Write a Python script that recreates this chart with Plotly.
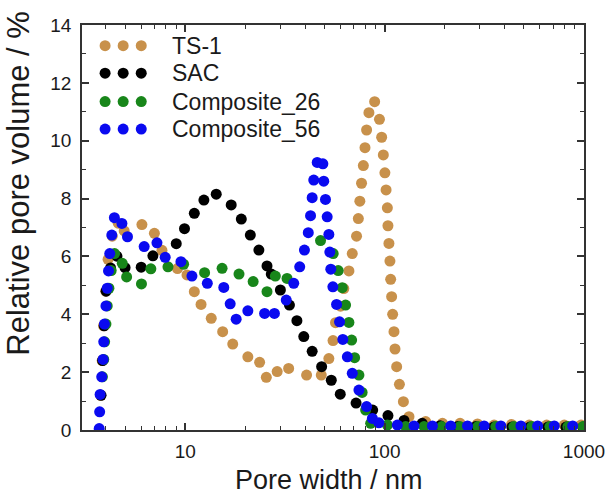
import plotly.graph_objects as go

# ---------------- data ----------------
ts1_x = [3.76, 3.83, 3.89, 3.99, 4.10, 4.30, 4.61, 4.94, 6.06, 7.00, 7.64, 9.14, 10.2, 11.1, 12.0, 13.5,
         15.4, 17.3, 20.6, 23.6, 25.5, 28.9, 33.0, 40.6, 48.1, 52.5, 55.1, 56.7, 60.1, 62.4, 66.2, 68.8,
         72.3, 73.8, 75.1, 76.6, 78.2, 79.7, 81.2, 83.4, 89.1, 94.2, 96.6, 98.5, 100.3, 101.7, 103.2,
         103.9, 105.1, 106.3, 107.2, 108.4, 109.7, 111.4, 112.7, 114.9, 118.6, 124.2, 132.5, 160.7,
         195.0, 239.0, 292.3, 354.2, 433.3, 531.1, 649.7, 796.2, 965.8]
ts1_y = [1.2, 2.4, 3.6, 4.8, 5.9, 6.7, 7.15, 6.88, 7.10, 6.80, 6.21, 5.58, 5.36, 4.78, 4.34, 3.86,
         3.40, 2.97, 2.53, 2.34, 1.82, 2.02, 2.13, 1.90, 1.90, 2.47, 3.09, 3.71, 4.28, 4.89, 5.50, 6.10,
         6.70, 7.31, 7.91, 8.53, 9.14, 9.76, 10.37, 10.97, 11.35, 10.74, 10.12, 9.51, 8.89, 8.30, 7.68,
         7.06, 6.45, 5.84, 5.21, 4.61, 4.00, 3.40, 2.80, 2.19, 1.58, 0.98, 0.46, 0.29,
         0.23, 0.23, 0.21, 0.17, 0.19, 0.17, 0.17, 0.17, 0.17]

sac_x = [3.78, 3.85, 3.92, 4.01, 4.22, 4.54, 4.99, 6.01, 6.88, 9.01, 9.91, 11.1, 12.4, 14.3, 17.0,
         19.1, 21.2, 23.4, 25.7, 27.0, 30.0, 33.3, 36.3, 39.3, 43.3, 48.3, 54.0, 59.9, 71.9, 87.1,
         103.9, 125.1, 154.3, 189.7, 232.8, 286.7, 352.9, 434.6, 535.4, 659.3, 811.9, 988.5]
sac_y = [1.2, 2.4, 3.6, 4.8, 5.6, 6.01, 5.61, 5.63, 6.02, 6.44, 6.96, 7.49, 7.95, 8.15, 7.78,
         7.29, 6.74, 6.22, 5.67, 5.39, 4.84, 4.32, 3.78, 3.23, 2.72, 2.19, 1.72, 1.24, 0.93, 0.69,
         0.50, 0.33, 0.23, 0.15, 0.12, 0.12, 0.10, 0.10, 0.10, 0.10, 0.10, 0.10]

c26_x = [3.84, 3.90, 3.94, 4.00, 4.06, 4.14, 4.25, 4.42, 4.83, 5.08, 6.03, 6.72, 8.19, 9.81, 12.5,
         15.3, 18.6, 21.9, 25.7, 28.3, 32.4, 47.7, 55.2, 58.5, 61.3, 63.7, 66.2, 68.3, 70.7, 74.3,
         77.1, 80.3, 85.1, 103.2, 127.5, 157.6, 193.4, 238.2, 293.4, 361.3, 444.8, 547.9, 674.6,
         830.8, 988.5]
c26_y = [1.84, 2.44, 3.05, 3.66, 4.29, 4.90, 5.51, 6.10, 5.76, 5.29, 5.05, 5.57, 5.64, 5.73, 5.44,
         5.59, 5.39, 5.13, 4.78, 5.32, 5.24, 6.55, 6.10, 5.51, 4.92, 4.32, 3.72, 3.11, 2.50, 1.90,
         1.30, 0.69, 0.23, 0.17, 0.12, 0.12, 0.12, 0.12, 0.12, 0.12, 0.12, 0.12, 0.12,
         0.12, 0.12]

c56_x = [3.70, 3.72, 3.74, 3.81, 3.87, 3.90, 3.93, 4.00, 4.06, 4.12, 4.18, 4.28, 4.41, 4.81, 5.13,
         6.22, 7.21, 7.93, 9.51, 10.8, 12.9, 15.6, 16.8, 18.0, 20.6, 25.0, 28.0, 32.1, 35.0, 37.5,
         39.6, 41.4, 42.5, 43.3, 44.1, 45.9, 49.0, 49.5, 50.5, 51.5, 52.5, 53.1, 53.7, 55.0, 57.4,
         59.4, 61.7, 65.0, 68.8, 74.3, 81.2, 86.8, 93.6, 115.8, 140.4, 173.7, 214.6, 260.4, 315.5,
         382.8, 482.6, 585.5, 709.3, 877.6]
c56_y = [0.05, 0.63, 1.23, 1.84, 2.44, 3.05, 3.66, 4.29, 4.90, 5.50, 6.10, 6.74, 7.34, 7.14, 6.68,
         6.34, 6.47, 5.97, 5.82, 5.32, 5.07, 4.93, 4.36, 3.83, 4.12, 4.03, 4.03, 4.49, 5.07, 5.64,
         6.22, 6.82, 7.41, 8.03, 8.64, 9.25, 9.20, 8.60, 7.97, 7.37, 6.76, 6.15, 5.56, 4.95, 4.34,
         3.74, 3.13, 2.53, 1.96, 1.38, 0.81, 0.40, 0.25, 0.17, 0.14, 0.14, 0.14, 0.14, 0.14,
         0.14, 0.14, 0.14, 0.14, 0.14]

series_names = ["TS-1", "SAC", "Composite_26", "Composite_56"]
series_x = [ts1_x, sac_x, c26_x, c56_x]
series_y = [ts1_y, sac_y, c26_y, c56_y]
colors = ["#C8914B", "#000000", "#18861A", "#0A0AF0"]

x_major = [10, 100, 1000]
x_minor = [4, 5, 6, 7, 8, 9, 20, 30, 40, 50, 60, 70, 80, 90, 200, 300, 400, 500, 600, 700, 800, 900]
y_major = [0, 2, 4, 6, 8, 10, 12, 14]

FONT = "Arial, Liberation Sans, sans-serif"
TXT = "#1a1a1a"
MS = 11

fig = go.Figure()
for name, xs, ys, c in zip(series_names, series_x, series_y, colors):
    fig.add_trace(go.Scatter(x=xs, y=ys, mode="markers", name=name, showlegend=False,
                             marker=dict(size=MS, color=c, line=dict(width=0))))

# legend drawn on an overlay axis (paper-like 0..1 coordinates)
leg_dot_x = [0.046, 0.082, 0.118]
leg_rows = [0.949, 0.881, 0.811, 0.743]
for name, c, ry in zip(series_names, colors, leg_rows):
    fig.add_trace(go.Scatter(x=leg_dot_x, y=[ry] * 3, xaxis="x2", yaxis="y2", mode="markers",
                             showlegend=False, hoverinfo="skip",
                             marker=dict(size=MS, color=c, line=dict(width=0))))
    fig.add_annotation(x=0.175, y=ry, xref="paper", yref="paper", text=name, showarrow=False,
                       xanchor="left", yanchor="middle", font=dict(size=23, color=TXT, family=FONT))

# axis titles
fig.add_annotation(x=-0.126, y=0.61, xref="paper", yref="paper", text="Relative pore volume / %",
                   textangle=-90, showarrow=False, xanchor="center", yanchor="middle",
                   font=dict(size=31, color=TXT, family=FONT))
fig.add_annotation(x=0.492, y=-0.124, xref="paper", yref="paper", text="Pore width / nm",
                   showarrow=False, xanchor="center", yanchor="middle",
                   font=dict(size=27, color=TXT, family=FONT))

axis_common = dict(showline=True, linecolor="#333333", linewidth=1.5, mirror="allticks",
                   ticks="inside", tickcolor="#333333", tickwidth=1.5, ticklen=7,
                   showgrid=False, zeroline=False, automargin=False,
                   tickfont=dict(size=19, color=TXT, family=FONT))

fig.update_layout(
    width=611, height=496,
    margin=dict(l=82, r=27, t=25, b=66),
    paper_bgcolor="white", plot_bgcolor="white",
    font=dict(family=FONT, color=TXT),
    xaxis=dict(type="log", range=[0.482, 3.0], tickvals=x_major, ticktext=["10", "100", "1000"],
               ticklabelstandoff=3,
               minor=dict(tickvals=x_minor, ticks="inside", ticklen=4, tickcolor="#333333", tickwidth=1.2),
               **axis_common),
    yaxis=dict(range=[0, 14], tickvals=y_major, ticklabelstandoff=5,
               minor=dict(dtick=1, ticks="inside", ticklen=4, tickcolor="#333333", tickwidth=1.2),
               **axis_common),
    xaxis2=dict(overlaying="x", range=[0, 1], visible=False, fixedrange=True),
    yaxis2=dict(overlaying="y", range=[0, 1], visible=False, fixedrange=True),
)

fig.write_html("out.html")
